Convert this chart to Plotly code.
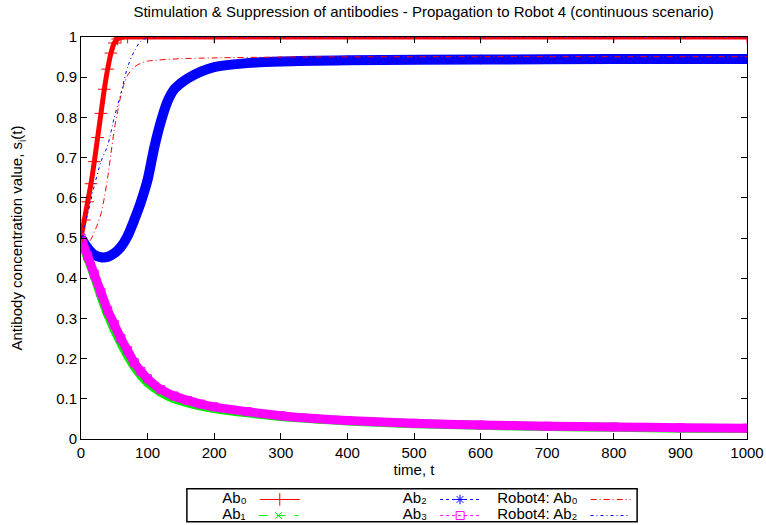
import plotly.graph_objects as go

# ---- data ----
t_ab0 = [0, 5, 10, 15, 20, 25, 30, 35, 40, 45, 50, 55, 60, 70, 100, 200, 400, 600, 800, 1000]
ab0 = [0.5, 0.545, 0.59, 0.635, 0.69, 0.75, 0.81, 0.87, 0.92, 0.96, 0.985, 0.995, 0.999, 1.0, 1.0, 1.0, 1.0, 1.0, 1.0, 1.0]

t_low = [0, 10, 20, 30, 40, 50, 60, 70, 80, 90, 100, 120, 140, 160, 180, 200, 250, 300, 350, 400, 500, 600, 700, 800, 900, 1000]
ab1 = [0.5, 0.45, 0.405, 0.355, 0.31, 0.272, 0.238, 0.207, 0.18, 0.158, 0.14, 0.116, 0.1, 0.09, 0.082, 0.076,
       0.065, 0.056, 0.05, 0.045, 0.038, 0.034, 0.031, 0.029, 0.027, 0.026]
ab3 = [0.5, 0.455, 0.41, 0.365, 0.32, 0.285, 0.25, 0.22, 0.19, 0.168, 0.15, 0.123, 0.107, 0.096, 0.087, 0.08,
       0.068, 0.058, 0.051, 0.046, 0.039, 0.035, 0.032, 0.03, 0.028, 0.027]

t_ab2 = [0, 10, 20, 30, 40, 50, 60, 70, 80, 90, 100, 110, 120, 130, 140, 150, 160, 180, 200, 250, 300, 400, 600, 800, 1000]
ab2 = [0.5, 0.475, 0.458, 0.452, 0.453, 0.462, 0.478, 0.505, 0.545, 0.59, 0.645, 0.725, 0.79, 0.84, 0.87, 0.885,
       0.897, 0.914, 0.925, 0.935, 0.939, 0.942, 0.944, 0.945, 0.945]

t_r0 = [0, 5, 10, 15, 20, 25, 30, 35, 40, 45, 50, 55, 60, 65, 70, 80, 90, 100, 150, 200, 300, 500, 1000]
r4_ab0 = [0.5, 0.487, 0.487, 0.497, 0.515, 0.535, 0.56, 0.6, 0.65, 0.71, 0.77, 0.815, 0.855, 0.885, 0.905, 0.925,
          0.935, 0.94, 0.946, 0.948, 0.95, 0.951, 0.951]

t_r2 = [0, 10, 20, 30, 40, 50, 60, 70, 80, 90, 100, 110, 200, 500, 1000]
r4_ab2 = [0.5, 0.56, 0.63, 0.69, 0.73, 0.8, 0.86, 0.925, 0.965, 0.99, 0.998, 1.0, 1.0, 1.0, 1.0]

series_names = ["Ab₀", "Ab₁", "Ab₂", "Ab₃", "Robot4: Ab₀", "Robot4: Ab₂"]

x_ticks = list(range(0, 1001, 100))
y_ticks = [round(0.1 * i, 1) for i in range(11)]

RED, GREEN, BLUE, MAG = "#ff0000", "#00ee00", "#0000ff", "#ff00ff"
FONT = "Liberation Sans, Arial, Helvetica, sans-serif"
FS = 15

fig = go.Figure()


def band(x, y, color, width):
    fig.add_trace(go.Scatter(x=x, y=y, mode="lines", showlegend=False, hoverinfo="skip",
                             line=dict(color=color, width=width, shape="spline", smoothing=0.8)))


def main(x, y, color, dash, symbol, size, legend, mode="lines+markers"):
    fig.add_trace(go.Scatter(x=x, y=y, mode=mode, name="", legend=legend,
                             line=dict(color=color, width=1, dash=dash, shape="spline", smoothing=0.8),
                             marker=dict(symbol=symbol, size=size, color=color,
                                         line=dict(color=color, width=1))))


band(t_ab0, ab0, RED, 5)
main(t_ab0, ab0, RED, "solid", "cross-thin", 9, "legend")
band(t_low, ab1, GREEN, 9)
main(t_low, ab1, GREEN, "dash", "x-thin", 7, "legend2")
band(t_ab2, ab2, BLUE, 10)
main(t_ab2, ab2, BLUE, "dot", "asterisk", 8, "legend3")
band(t_low, ab3, MAG, 9)
main(t_low, ab3, MAG, "dot", "square-open", 8, "legend4")
main(t_r0, r4_ab0, RED, "6px,3px,1px,3px", None, 1, "legend5", mode="lines")
main(t_r2, r4_ab2, BLUE, "3px,3px,1px,3px", None, 1, "legend6", mode="lines")

axis_common = dict(showline=True, linecolor="black", linewidth=1, mirror="ticks", ticks="inside",
                   ticklen=6, tickcolor="black", showgrid=False, zeroline=False,
                   tickfont=dict(family=FONT, size=FS, color="black"))


def leg(name, x, y):
    return dict(orientation="v", yanchor="top", y=y, xanchor="left", x=x, bgcolor="rgba(0,0,0,0)",
                font=dict(family=FONT, size=FS, color="black"), itemwidth=40,
                title=dict(text=name, side="left", font=dict(family=FONT, size=FS, color="black")))


col_x = [0.209, 0.480, 0.622]
row_y = [-0.11, -0.15]

fig.update_layout(
    width=766, height=525,
    margin=dict(l=81, r=19, t=37, b=86, autoexpand=False),
    paper_bgcolor="white", plot_bgcolor="white",
    font=dict(family=FONT, size=FS, color="black"),
    title=dict(text="Stimulation &amp; Suppression of antibodies - Propagation to Robot 4 (continuous scenario)",
               x=0.553, xanchor="center", y=0.977, yanchor="middle",
               font=dict(family=FONT, size=FS, color="black")),
    xaxis=dict(range=[0, 1000], tickvals=x_ticks,
               title=dict(text="time, t", standoff=3, font=dict(family=FONT, size=FS)), **axis_common),
    yaxis=dict(range=[0, 1], tickvals=y_ticks,
               title=dict(text="Antibody concentration value, s<sub>i</sub>(t)", standoff=29,
                          font=dict(family=FONT, size=FS)), **axis_common),
    legend=leg(series_names[0], col_x[0], row_y[0]),
    legend2=leg(series_names[1], col_x[0], row_y[1]),
    legend3=leg(series_names[2], col_x[1], row_y[0]),
    legend4=leg(series_names[3], col_x[1], row_y[1]),
    legend5=leg(series_names[4], col_x[2], row_y[0]),
    legend6=leg(series_names[5], col_x[2], row_y[1]),
    shapes=[dict(type="rect", xref="paper", yref="paper", x0=0.159, x1=0.835, y0=-0.206, y1=-0.124,
                 line=dict(color="black", width=1.5), fillcolor="rgba(0,0,0,0)")],
)

fig.write_html("out.html", config={"displayModeBar": False},
               post_script="document.body.style.margin='0';")
